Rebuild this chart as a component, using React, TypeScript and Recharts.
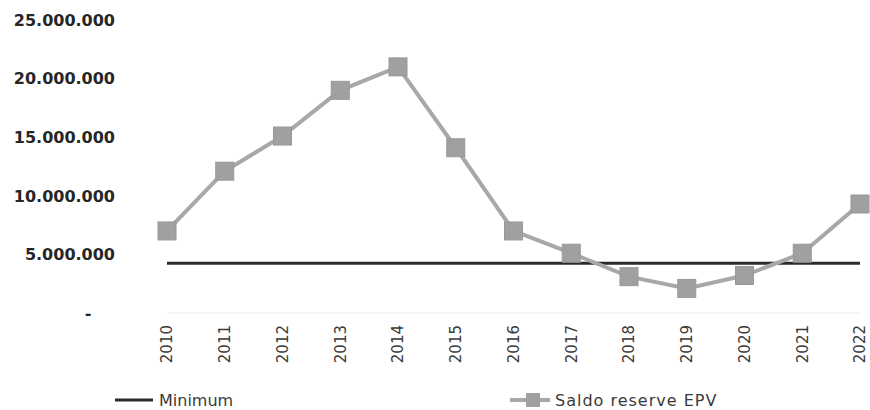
import React from "react";
import { Line, LineChart, XAxis, YAxis } from "recharts";

const years = ["2010", "2011", "2012", "2013", "2014", "2015", "2016", "2017", "2018", "2019", "2020", "2021", "2022"];
const saldoReserve = [7000000, 12100000, 15100000, 19000000, 21000000, 14100000, 7000000, 5100000, 3100000, 2100000, 3200000, 5100000, 9300000];
const minimum = [4250000, 4250000, 4250000, 4250000, 4250000, 4250000, 4250000, 4250000, 4250000, 4250000, 4250000, 4250000, 4250000];
const yTicks = [0, 5000000, 10000000, 15000000, 20000000, 25000000];

const data = years.map((year, i) => ({
  year,
  saldo: saldoReserve[i],
  min: minimum[i],
}));

const LINE_GREY = "#a8a8a8";
const MARKER_GREY = "#a0a0a0";
const MIN_COLOR = "#2a2a2a";

const formatMillions = (v: number) =>
  v === 0 ? "-" : v.toString().replace(/\B(?=(\d{3})+(?!\d))/g, ".");

function YTick({ y, payload }: any) {
  const zero = payload.value === 0;
  return (
    <text
      x={zero ? 88 : 115}
      y={y}
      dy="0.36em"
      textAnchor={zero ? "middle" : "end"}
      fill="#262626"
      fontSize={16}
      fontWeight="bold"
      fontFamily="DejaVu Sans, sans-serif"
    >
      {formatMillions(payload.value)}
    </text>
  );
}

function XTick({ x, payload }: any) {
  return (
    <text
      x={0}
      y={0}
      transform={`translate(${x}, 325) rotate(-90)`}
      textAnchor="end"
      dy="0.36em"
      fill="#3a3a3a"
      fontSize={15}
      fontFamily="DejaVu Sans, sans-serif"
    >
      {payload.value}
    </text>
  );
}

function SquareDot({ cx, cy, index }: any) {
  if (cx == null || cy == null) return null;
  return (
    <rect
      key={index}
      x={cx - 9}
      y={cy - 9}
      width={18}
      height={18}
      fill={MARKER_GREY}
      stroke="#989898"
      strokeWidth={1}
    />
  );
}

export default function App() {
  return (
    <div style={{ position: "absolute", left: 0, top: 0, width: 870, height: 410, background: "#fff" }}>
      <LineChart width={870} height={410} data={data} margin={{ top: 20, right: 10, left: 0, bottom: 0 }}>
        <XAxis
          dataKey="year"
          height={97}
          tick={<XTick />}
          tickLine={false}
          axisLine={{ stroke: "#ececec", strokeWidth: 1 }}
          interval={0}
        />
        <YAxis
          width={167}
          domain={[0, 25000000]}
          ticks={yTicks}
          tick={<YTick />}
          tickLine={false}
          axisLine={false}
        />
        <Line
          dataKey="min"
          stroke={MIN_COLOR}
          strokeWidth={3}
          dot={false}
          isAnimationActive={false}
        />
        <Line
          dataKey="saldo"
          stroke={LINE_GREY}
          strokeWidth={4}
          dot={<SquareDot />}
          activeDot={false}
          isAnimationActive={false}
        />
      </LineChart>
      <svg
        width={870}
        height={24}
        style={{ position: "absolute", left: 0, top: 388 }}
        fontFamily="DejaVu Sans, sans-serif"
        fontSize={16}
      >
        <line x1={115} x2={153} y1={12} y2={12} stroke={MIN_COLOR} strokeWidth={3} />
        <text x={159} y={12} dy="0.36em" fill="#3a3a3a">
          Minimum
        </text>
        <line x1={510} x2={550} y1={12} y2={12} stroke={LINE_GREY} strokeWidth={4} />
        <rect x={526} y={5} width={14} height={14} fill={MARKER_GREY} />
        <text x={555} y={12} dy="0.36em" fill="#3a3a3a" letterSpacing={1}>
          Saldo reserve EPV
        </text>
      </svg>
    </div>
  );
}
